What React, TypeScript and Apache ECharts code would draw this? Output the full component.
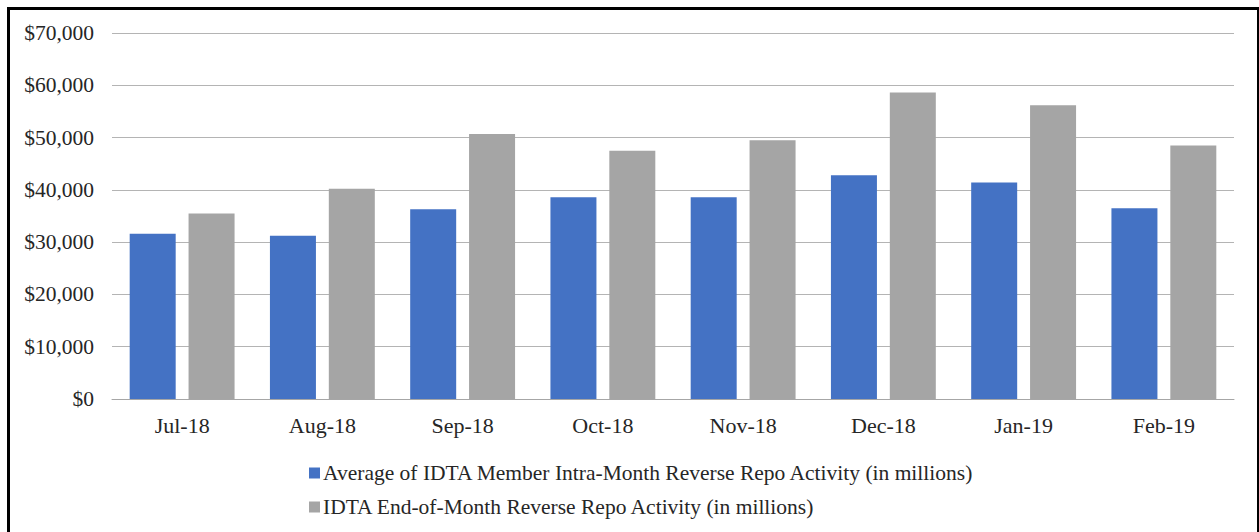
import React, { useEffect, useRef } from "react";
import * as echarts from "echarts";

const categories = ["Jul-18", "Aug-18", "Sep-18", "Oct-18", "Nov-18", "Dec-18", "Jan-19", "Feb-19"];
const avgIntraMonth = [31600, 31200, 36300, 38600, 38600, 42800, 41400, 36500];
const endOfMonth = [35500, 40200, 50700, 47500, 49500, 58600, 56200, 48500];
const seriesNames = [
  "Average of IDTA Member Intra-Month Reverse Repo Activity (in millions)",
  "IDTA End-of-Month Reverse Repo Activity (in millions)",
];
const yTicks = [0, 10000, 20000, 30000, 40000, 50000, 60000, 70000];

const FONT = "'Liberation Serif', 'Times New Roman', serif";

export default function App() {
  const ref = useRef<HTMLDivElement>(null);

  useEffect(() => {
    document.body.style.overflow = "hidden";
    const chart = echarts.init(ref.current!, null, { renderer: "svg" });
    chart.setOption({
      animation: false,
      backgroundColor: "transparent",
      grid: { left: 112, right: 25, top: 33, bottom: 133, containLabel: false },
      legend: {
        orient: "vertical",
        left: 304,
        top: 457,
        itemWidth: 11,
        itemHeight: 11,
        itemGap: 12,
        icon: "rect",
        textStyle: { fontFamily: FONT, fontSize: 21.5, color: "#262626", padding: [0, 0, 0, -2] },
        data: seriesNames,
      },
      xAxis: {
        type: "category",
        data: categories,
        axisLine: { show: true, lineStyle: { color: "#a6a6a6", width: 1 } },
        axisTick: { show: false },
        axisLabel: { fontFamily: FONT, fontSize: 22, color: "#262626", margin: 15 },
      },
      yAxis: {
        type: "value",
        min: yTicks[0],
        max: yTicks[yTicks.length - 1],
        interval: 10000,
        axisLine: { show: false },
        axisTick: { show: false },
        splitLine: { lineStyle: { color: "#b4b4b4", width: 1 } },
        axisLabel: {
          fontFamily: FONT,
          fontSize: 21.5,
          color: "#262626",
          margin: 18,
          formatter: (v: number) => "$" + v.toLocaleString("en-US"),
        },
      },
      series: [
        {
          name: seriesNames[0],
          type: "bar",
          data: avgIntraMonth,
          barWidth: 46,
          barGap: "28%",
          itemStyle: { color: "#4472C4" },
        },
        {
          name: seriesNames[1],
          type: "bar",
          data: endOfMonth,
          barWidth: 46,
          barGap: "28%",
          itemStyle: { color: "#A5A5A5" },
        },
      ],
    });
    return () => chart.dispose();
  }, []);

  return (
    <div>
      <div
        style={{
          position: "fixed",
          left: 7,
          top: 7,
          width: 1252,
          height: 525,
          boxSizing: "border-box",
          borderTop: "3px solid #000",
          borderLeft: "3px solid #000",
          borderRight: "2px solid #000",
          background: "#fff",
        }}
      />
      <div ref={ref} style={{ position: "fixed", left: 0, top: 0, width: 1259, height: 532 }} />
    </div>
  );
}
